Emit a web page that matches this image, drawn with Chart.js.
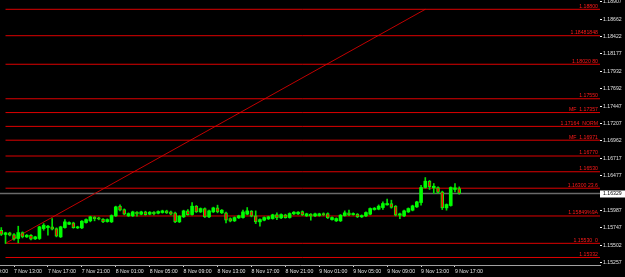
<!DOCTYPE html>
<html>
<head>
<meta charset="utf-8">
<script src="https://cdn.jsdelivr.net/npm/chart.js@4.4.1/dist/chart.umd.min.js"></script>
<style>
  html, body { margin: 0; padding: 0; background: #000; }
  #wrap { width: 625px; height: 277px; position: relative; }
</style>
</head>
<body>
<div id="wrap"><canvas id="chart"></canvas></div>
<script>
// 30 minute bars, hours counted from 7 Nov 13:00
const firstBarHour = -1.5
const barStepHours = 0.5

const opens = [
  1.15713, 1.15653, 1.15676, 1.15653, 1.15597, 1.15680, 1.15620, 1.15643, 1.15592, 1.15597,
  1.15736, 1.15750, 1.15760, 1.15736, 1.15620, 1.15750, 1.15797, 1.15816, 1.15746, 1.15746,
  1.15820, 1.15844, 1.15895, 1.15886, 1.15867, 1.15834, 1.15830, 1.15914, 1.16049, 1.16002,
  1.15914, 1.15914, 1.15965, 1.15937, 1.15969, 1.15937, 1.15965, 1.15951, 1.15960, 1.15983,
  1.15969, 1.15956, 1.15830, 1.15900, 1.15983, 1.15932, 1.16049, 1.15969, 1.16016, 1.15900,
  1.15969, 1.16025, 1.15956, 1.15956, 1.15876, 1.15844, 1.15886, 1.15890, 1.15937, 1.15979,
  1.15914, 1.15830, 1.15853, 1.15872, 1.15876, 1.15932, 1.15886, 1.15928, 1.15890, 1.15942,
  1.15942, 1.15974, 1.15914, 1.15937, 1.15914, 1.15918, 1.15946, 1.15946, 1.15862, 1.15844,
  1.15844, 1.15918, 1.15956, 1.15932, 1.15937, 1.15900, 1.15914, 1.15937, 1.16002, 1.16007,
  1.16030, 1.16067, 1.16086, 1.16049, 1.15923, 1.15914, 1.15969, 1.15993, 1.16039, 1.16100,
  1.16310, 1.16398, 1.16305, 1.16310, 1.16249, 1.16025, 1.16058, 1.16282, 1.16296
]
const highs = [
  1.15750, 1.15685, 1.15685, 1.15667, 1.15769, 1.15690, 1.15653, 1.15653, 1.15629, 1.15769,
  1.15806, 1.15783, 1.15876, 1.15746, 1.15769, 1.15862, 1.15830, 1.15825, 1.15769, 1.15848,
  1.15872, 1.15909, 1.15904, 1.15895, 1.15876, 1.15872, 1.15928, 1.16049, 1.16067, 1.16011,
  1.15956, 1.15979, 1.15974, 1.15979, 1.15979, 1.15974, 1.15974, 1.15983, 1.15993, 1.15993,
  1.15979, 1.15965, 1.15918, 1.15993, 1.16002, 1.16100, 1.16058, 1.16025, 1.16025, 1.15993,
  1.16035, 1.16063, 1.16002, 1.15965, 1.15886, 1.15900, 1.15923, 1.15993, 1.16030, 1.15988,
  1.15983, 1.15872, 1.15900, 1.15909, 1.15937, 1.15956, 1.15942, 1.15937, 1.15956, 1.15974,
  1.15974, 1.15983, 1.15951, 1.15946, 1.15951, 1.15951, 1.15956, 1.15956, 1.15900, 1.15886,
  1.15932, 1.15983, 1.15993, 1.15956, 1.15946, 1.15928, 1.15969, 1.16025, 1.16030, 1.16067,
  1.16109, 1.16147, 1.16133, 1.16058, 1.15951, 1.15993, 1.16025, 1.16063, 1.16118, 1.16342,
  1.16449, 1.16408, 1.16366, 1.16319, 1.16259, 1.16081, 1.16319, 1.16366, 1.16319
]
const lows = [
  1.15639, 1.15527, 1.15634, 1.15573, 1.15536, 1.15606, 1.15611, 1.15578, 1.15583, 1.15583,
  1.15713, 1.15643, 1.15717, 1.15620, 1.15611, 1.15741, 1.15792, 1.15741, 1.15736, 1.15736,
  1.15811, 1.15830, 1.15844, 1.15858, 1.15820, 1.15825, 1.15820, 1.15904, 1.15983, 1.15928,
  1.15904, 1.15904, 1.15909, 1.15928, 1.15923, 1.15928, 1.15928, 1.15942, 1.15951, 1.15946,
  1.15928, 1.15820, 1.15820, 1.15890, 1.15923, 1.15923, 1.15960, 1.15960, 1.15890, 1.15890,
  1.15960, 1.15956, 1.15946, 1.15816, 1.15830, 1.15834, 1.15876, 1.15881, 1.15928, 1.15900,
  1.15806, 1.15769, 1.15844, 1.15862, 1.15867, 1.15862, 1.15876, 1.15881, 1.15881, 1.15932,
  1.15932, 1.15918, 1.15904, 1.15853, 1.15904, 1.15909, 1.15918, 1.15876, 1.15853, 1.15834,
  1.15834, 1.15909, 1.15918, 1.15923, 1.15890, 1.15890, 1.15904, 1.15928, 1.15993, 1.15998,
  1.16002, 1.16063, 1.16021, 1.15914, 1.15876, 1.15904, 1.15960, 1.15983, 1.16030, 1.16063,
  1.16301, 1.16282, 1.16226, 1.16231, 1.16002, 1.15993, 1.16049, 1.16249, 1.16216
]
const closes = [
  1.15653, 1.15676, 1.15643, 1.15587, 1.15680, 1.15620, 1.15643, 1.15587, 1.15620, 1.15760,
  1.15783, 1.15769, 1.15727, 1.15629, 1.15760, 1.15830, 1.15820, 1.15750, 1.15760, 1.15839,
  1.15862, 1.15900, 1.15876, 1.15867, 1.15830, 1.15862, 1.15918, 1.16039, 1.15993, 1.15937,
  1.15946, 1.15969, 1.15937, 1.15969, 1.15932, 1.15965, 1.15942, 1.15974, 1.15983, 1.15956,
  1.15937, 1.15830, 1.15909, 1.15983, 1.15932, 1.16049, 1.15969, 1.16016, 1.15900, 1.15983,
  1.16025, 1.15969, 1.15993, 1.15853, 1.15839, 1.15890, 1.15914, 1.15969, 1.15983, 1.15909,
  1.15830, 1.15862, 1.15890, 1.15900, 1.15928, 1.15886, 1.15932, 1.15890, 1.15946, 1.15965,
  1.15965, 1.15928, 1.15942, 1.15909, 1.15942, 1.15942, 1.15928, 1.15886, 1.15890, 1.15876,
  1.15923, 1.15956, 1.15928, 1.15946, 1.15900, 1.15918, 1.15960, 1.16016, 1.16021, 1.16049,
  1.16086, 1.16086, 1.16030, 1.15923, 1.15942, 1.15983, 1.16016, 1.16053, 1.16109, 1.16310,
  1.16398, 1.16319, 1.16328, 1.16240, 1.16025, 1.16072, 1.16310, 1.16305, 1.16226
]

// horizontal level lines and their texts
const levelPrices = [1.18800, 1.18431, 1.18032, 1.17550, 1.17357, 1.17164, 1.16971, 1.16750, 1.16530, 1.16300, 1.15912, 1.15530, 1.15332]
const levelTexts = ["1.18800", "1.18481848", "1.18020 80", "1.17550", "MF  1.17357", "1.17164  NORM", "MF  1.16971", "1.16770", "1.16530", "1.16300 23.6", "1.15849%9A", "1.15530  0", "1.15332"]
const levelStartHour = -1

// trend line
const trendHours = [-1, 48.5]
const trendPrices = [1.15530, 1.18800]

const bidText = "1.16329"

const priceTicks = [1.18907, 1.18662, 1.18422, 1.18177, 1.17932, 1.17692, 1.17447, 1.17207,
  1.16962, 1.16717, 1.16477, 1.15987, 1.15747, 1.15502, 1.15257]
const timeLabels = ["7 Nov 09:00", "7 Nov 13:00", "7 Nov 17:00", "7 Nov 21:00", "8 Nov 01:00",
  "8 Nov 05:00", "8 Nov 09:00", "8 Nov 13:00", "8 Nov 17:00", "8 Nov 21:00", "9 Nov 01:00",
  "9 Nov 05:00", "9 Nov 09:00", "9 Nov 13:00", "9 Nov 17:00"]
const timeTickStart = -4
const timeTickStep = 4

const xMin = -1.651
const xMax = 69.1
const yMin = 1.15227
const yMax = 1.1893

const FONT = { family: "'Liberation Sans', Arial, sans-serif", size: 5.2 }
const LIME = "#00ff00"
const RED = "#ff0000"

const barHour = (i) => firstBarHour + i * barStepHours
const isBear = (i) => closes[i] < opens[i]

const bodies = opens.map((o, i) => ({ x: barHour(i), y: [o, closes[i]] }))
const wicks = highs.map((h, i) => ({ x: barHour(i), y: [lows[i], h] }))

const lastClose = closes[closes.length - 1]

const levelDatasets = levelPrices.map((p) => ({
  type: "line",
  data: [{ x: levelStartHour, y: p }, { x: xMax, y: p }],
  borderColor: "#dd0000",
  borderWidth: 1,
  pointRadius: 0,
  order: 2,
}))

const labelsPlugin = {
  id: "levelLabels",
  afterDraw(chart) {
    const { ctx, chartArea } = chart
    const y = chart.scales.y
    ctx.save()
    ctx.font = `${FONT.size}px ${FONT.family}`
    ctx.fillStyle = "#ff1a1a"
    ctx.textAlign = "right"
    ctx.textBaseline = "bottom"
    levelPrices.forEach((p, i) => {
      ctx.fillText(levelTexts[i], chartArea.right - 2, y.getPixelForValue(p) - 0.5)
    })

    // current price box on the axis
    const by = y.getPixelForValue(lastClose)
    ctx.fillStyle = "#ffffff"
    ctx.fillRect(chartArea.right, Math.round(by) - 3.5, 25, 7)
    ctx.fillStyle = "#000000"
    ctx.textAlign = "left"
    ctx.textBaseline = "middle"
    ctx.fillText(bidText, chartArea.right + 3, by)
    ctx.restore()
  },
}

new Chart(document.getElementById("chart"), {
  type: "bar",
  data: {
    datasets: [
      {
        data: bodies,
        grouped: false,
        barThickness: 3,
        backgroundColor: (c) => (isBear(c.dataIndex) ? RED : LIME),
        borderColor: LIME,
        borderWidth: (c) => (isBear(c.dataIndex) ? 1 : 0),
        borderSkipped: false,
        order: 0,
      },
      {
        data: wicks,
        grouped: false,
        barThickness: 1,
        backgroundColor: "#00e000",
        order: 1,
      },
      ...levelDatasets,
      {
        type: "line",
        data: [{ x: trendHours[0], y: trendPrices[0] }, { x: trendHours[1], y: trendPrices[1] }],
        borderColor: "#c00000",
        borderWidth: 1,
        pointRadius: 0,
        order: 2,
      },
      {
        type: "line",
        data: [{ x: xMin, y: lastClose }, { x: xMax, y: lastClose }],
        borderColor: "#6a6a6a",
        borderWidth: 1.5,
        pointRadius: 0,
        order: 3,
      },
    ],
  },
  options: {
    responsive: true,
    maintainAspectRatio: false,
    animation: false,
    events: [],
    layout: { padding: 0 },
    plugins: { legend: { display: false }, tooltip: { enabled: false } },
    scales: {
      x: {
        type: "linear",
        min: xMin,
        max: xMax,
        offset: false,
        afterBuildTicks: (s) => {
          s.ticks = timeLabels.map((t, k) => ({ value: timeTickStart + k * timeTickStep }))
        },
        afterFit: (s) => {
          s.height = 12
          s.paddingLeft = 0
          s.paddingRight = 0
        },
        ticks: {
          color: "#e0e0e0",
          font: FONT,
          align: "start",
          autoSkip: false,
          maxRotation: 0,
          padding: 1,
          callback: (v, i) => timeLabels[i],
        },
        grid: { offset: false, drawOnChartArea: false, tickLength: 2, color: "#d0d0d0" },
        border: { display: true, color: "#a0a0a0" },
      },
      y: {
        type: "linear",
        position: "right",
        min: yMin,
        max: yMax,
        afterBuildTicks: (s) => {
          s.ticks = priceTicks.map((v) => ({ value: v }))
        },
        afterFit: (s) => {
          s.width = 25
          s.paddingTop = 0
          s.paddingBottom = 0
        },
        ticks: {
          color: "#e0e0e0",
          font: FONT,
          padding: 1,
          callback: (v) => v.toFixed(5),
        },
        grid: { drawOnChartArea: false, tickLength: 2, color: "#ffffff" },
        border: { display: false },
      },
    },
  },
  plugins: [labelsPlugin],
})
</script>
</body>
</html>
